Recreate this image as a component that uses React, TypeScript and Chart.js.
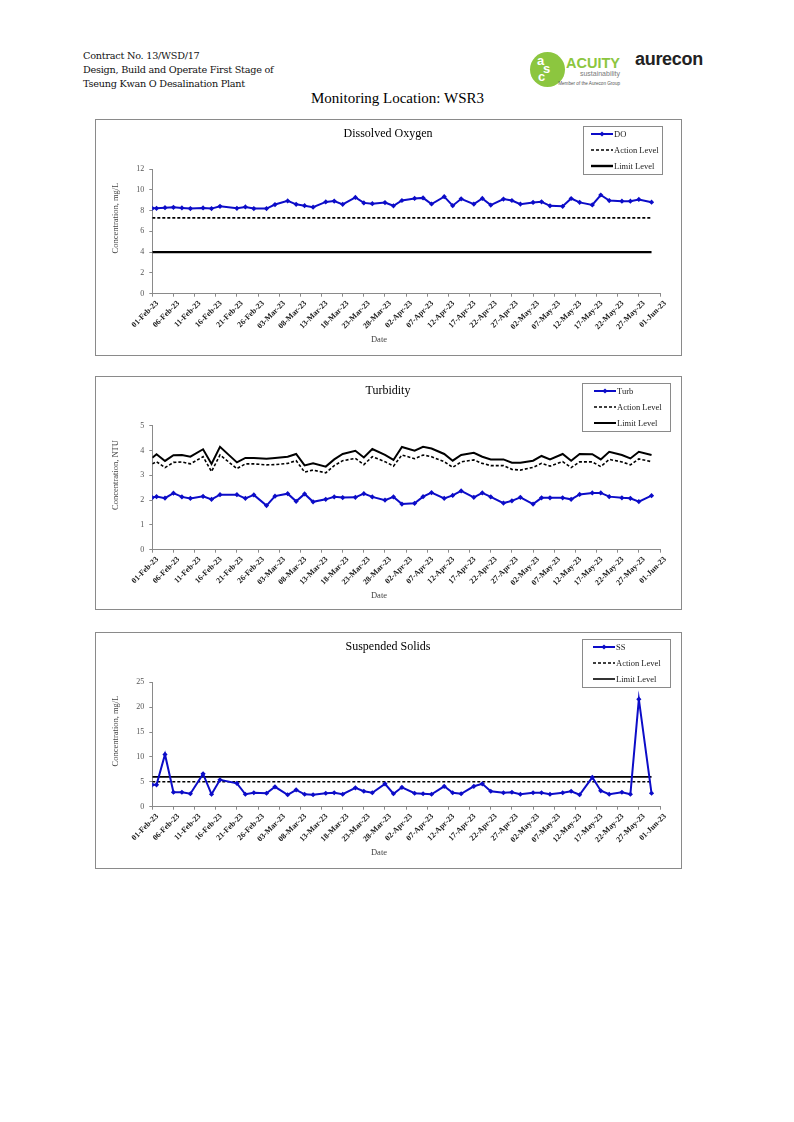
import React, { useEffect, useRef } from 'react';
import { Chart, registerables } from 'chart.js';

Chart.register(...registerables);

// ---------- DATA ----------
const tickLabels = [
  '01-Feb-23', '06-Feb-23', '11-Feb-23', '16-Feb-23', '21-Feb-23', '26-Feb-23',
  '03-Mar-23', '08-Mar-23', '13-Mar-23', '18-Mar-23', '23-Mar-23', '28-Mar-23',
  '02-Apr-23', '07-Apr-23', '12-Apr-23', '17-Apr-23', '22-Apr-23', '27-Apr-23',
  '02-May-23', '07-May-23', '12-May-23', '17-May-23', '22-May-23', '27-May-23',
  '01-Jun-23',
];

const sampleDates = [
  '01-Feb', '02-Feb', '04-Feb', '06-Feb', '08-Feb', '10-Feb', '13-Feb', '15-Feb', '17-Feb', '21-Feb', '23-Feb', '25-Feb', '28-Feb',
  '02-Mar', '05-Mar', '07-Mar', '09-Mar', '11-Mar', '14-Mar', '16-Mar', '18-Mar', '21-Mar', '23-Mar', '25-Mar', '28-Mar', '30-Mar',
  '01-Apr', '04-Apr', '06-Apr', '08-Apr', '11-Apr', '13-Apr', '15-Apr', '18-Apr', '20-Apr', '22-Apr', '25-Apr', '27-Apr', '29-Apr',
  '02-May', '04-May', '06-May', '09-May', '11-May', '13-May', '16-May', '18-May', '20-May', '23-May', '25-May', '27-May', '30-May',
];

const doValues = [
  8.22, 8.22, 8.28, 8.31, 8.25, 8.19, 8.25, 8.19, 8.41, 8.22, 8.35, 8.19, 8.19,
  8.58, 8.93, 8.6, 8.47, 8.33, 8.83, 8.91, 8.6, 9.26, 8.74, 8.66, 8.77, 8.46,
  8.97, 9.17, 9.22, 8.63, 9.34, 8.47, 9.13, 8.62, 9.17, 8.53, 9.11, 8.97, 8.62,
  8.78, 8.84, 8.46, 8.41, 9.16, 8.79, 8.54, 9.5, 8.96, 8.9, 8.9, 9.07, 8.81,
];
const doAction = 7.3;
const doLimit = 4.0;

const turbValues = [
  2.1, 2.14, 2.08, 2.28, 2.13, 2.07, 2.15, 2.03, 2.22, 2.22, 2.07, 2.21, 1.78,
  2.16, 2.26, 1.95, 2.25, 1.93, 2.03, 2.13, 2.1, 2.11, 2.26, 2.13, 2.0, 2.13,
  1.84, 1.87, 2.14, 2.3, 2.07, 2.19, 2.37, 2.11, 2.29, 2.13, 1.88, 1.97, 2.11,
  1.84, 2.09, 2.09, 2.09, 2.03, 2.23, 2.29, 2.29, 2.14, 2.09, 2.07, 1.94, 2.18,
];
const turbAction = [
  3.46, 3.55, 3.31, 3.52, 3.54, 3.46, 3.75, 3.15, 3.82, 3.27, 3.46, 3.46, 3.42,
  3.43, 3.48, 3.59, 3.13, 3.21, 3.1, 3.39, 3.59, 3.68, 3.43, 3.75, 3.55, 3.37,
  3.82, 3.67, 3.82, 3.75, 3.55, 3.32, 3.54, 3.62, 3.48, 3.39, 3.39, 3.24, 3.21,
  3.32, 3.48, 3.37, 3.55, 3.31, 3.54, 3.54, 3.35, 3.64, 3.54, 3.42, 3.66, 3.55,
];
const turbLimit = [
  3.71, 3.85, 3.58, 3.81, 3.82, 3.75, 4.05, 3.46, 4.15, 3.52, 3.7, 3.7, 3.67,
  3.7, 3.75, 3.86, 3.4, 3.48, 3.35, 3.64, 3.86, 3.99, 3.72, 4.06, 3.82, 3.62,
  4.14, 3.99, 4.15, 4.08, 3.86, 3.59, 3.82, 3.91, 3.75, 3.64, 3.64, 3.51, 3.51,
  3.59, 3.78, 3.64, 3.86, 3.59, 3.86, 3.85, 3.64, 3.95, 3.82, 3.68, 3.95, 3.82,
];

const ssValues = [
  4.4, 4.4, 10.5, 2.9, 2.9, 2.6, 6.6, 2.5, 5.4, 4.7, 2.5, 2.8, 2.7,
  4.0, 2.4, 3.4, 2.5, 2.4, 2.7, 2.8, 2.5, 3.8, 3.1, 2.8, 4.6, 2.6,
  3.9, 2.7, 2.6, 2.5, 4.1, 2.8, 2.6, 4.1, 4.6, 3.1, 2.8, 2.9, 2.5,
  2.8, 2.8, 2.5, 2.8, 3.1, 2.4, 5.9, 3.2, 2.5, 2.9, 2.5, 21.6, 2.7,
];
const ssAction = 5.0;
const ssLimit = 6.0;

// ---------- HELPERS ----------
const MONTHS: Record<string, number> = { Jan: 0, Feb: 1, Mar: 2, Apr: 3, May: 4, Jun: 5 };
const toDay = (s: string) => {
  const [d, m] = s.split('-');
  return (Date.UTC(2023, MONTHS[m], parseInt(d, 10)) - Date.UTC(2023, 1, 1)) / 86400000;
};
const days = sampleDates.map(toDay);
const pts = (vals: number[]) => vals.map((v, i) => ({ x: days[i], y: v }));
const levelPts = (v: number) => [{ x: days[0], y: v }, { x: days[days.length - 1], y: v }];

const BLUE = '#0c0cc8';
const AXIS = '#8a8a8a';
const SERIF = '"Liberation Serif", "Times New Roman", serif';
const CANVAS_W = 585;
const AREA_LEFT = 56.3;
const AREA_RIGHT = 564;

const decorPlugin = {
  id: 'decor',
  afterDraw(chart: any, _args: any, o: any) {
    const ctx = chart.ctx as CanvasRenderingContext2D;
    ctx.save();
    ctx.textAlign = 'center';
    ctx.textBaseline = 'middle';
    ctx.fillStyle = '#000';
    ctx.font = `12px ${SERIF}`;
    ctx.fillText(o.title, 292, 14);
    ctx.fillStyle = '#444';
    ctx.font = `8.5px ${SERIF}`;
    ctx.fillText('Date', 283, o.dateY);
    ctx.translate(19.7, 98);
    ctx.rotate(-Math.PI / 2);
    ctx.fillText(o.yTitle, 0, 0);
    ctx.restore();

    // legend box
    const L = o.legLeft, T = 5.5, W = o.legW, H = 47.5;
    ctx.save();
    ctx.fillStyle = '#fff';
    ctx.fillRect(L, T, W, H);
    ctx.strokeStyle = '#8a8a8a';
    ctx.lineWidth = 1;
    ctx.strokeRect(Math.round(L) + 0.5, Math.round(T) + 0.5, Math.round(W), Math.round(H));
    const rows = [T + 8.5, T + 24.5, T + 40.5];
    const x0 = L + o.lineOff, x1 = x0 + 22;
    chart.data.datasets.forEach((ds: any, i: number) => {
      const y = rows[i];
      ctx.save();
      ctx.strokeStyle = ds.borderColor;
      ctx.lineWidth = ds.borderWidth;
      ctx.setLineDash(ds.borderDash || []);
      ctx.beginPath();
      ctx.moveTo(x0, y);
      ctx.lineTo(x1, y);
      ctx.stroke();
      ctx.setLineDash([]);
      if (ds.pointRadius > 0) {
        const r = 2.6;
        const cx = (x0 + x1) / 2;
        ctx.fillStyle = ds.borderColor;
        ctx.beginPath();
        ctx.moveTo(cx, y - r);
        ctx.lineTo(cx + r, y);
        ctx.lineTo(cx, y + r);
        ctx.lineTo(cx - r, y);
        ctx.closePath();
        ctx.fill();
      }
      ctx.fillStyle = '#222';
      ctx.font = `8.5px ${SERIF}`;
      ctx.textAlign = 'left';
      ctx.textBaseline = 'middle';
      ctx.fillText(ds.label, x1 + 1, y + 0.5);
      ctx.restore();
    });
    ctx.restore();
  },
};

type Cfg = {
  canvasH: number;
  areaTop: number;
  areaBottom: number;
  yMax: number;
  yStep: number;
  title: string;
  yTitle: string;
  seriesLabel: string;
  series: { x: number; y: number }[];
  action: { x: number; y: number }[];
  limit: { x: number; y: number }[];
  legLeft: number;
  legW: number;
  lineOff: number;
  limitWidth: number;
};

function LineChart({ cfg }: { cfg: Cfg }) {
  const ref = useRef<HTMLCanvasElement>(null);
  useEffect(() => {
    const chart = new Chart(ref.current as HTMLCanvasElement, {
      type: 'line',
      data: {
        datasets: [
          {
            label: cfg.seriesLabel,
            data: cfg.series,
            borderColor: BLUE,
            backgroundColor: BLUE,
            borderWidth: 2,
            pointStyle: 'rectRot',
            pointRadius: 2.6,
            pointBorderWidth: 0,
            pointBackgroundColor: BLUE,
            tension: 0,
          },
          {
            label: 'Action Level',
            data: cfg.action,
            borderColor: '#000',
            borderWidth: 1.6,
            borderDash: [3, 2],
            pointRadius: 0,
          },
          {
            label: 'Limit Level',
            data: cfg.limit,
            borderColor: '#000',
            borderWidth: cfg.limitWidth,
            pointRadius: 0,
          },
        ],
      } as any,
      options: {
        animation: false,
        responsive: false,
        maintainAspectRatio: false,
        events: [],
        layout: { padding: { left: 0, top: cfg.areaTop, right: CANVAS_W - AREA_RIGHT, bottom: 0 } },
        plugins: {
          legend: { display: false },
          title: { display: false },
          tooltip: { enabled: false },
          decor: {
            title: cfg.title,
            yTitle: cfg.yTitle,
            dateY: cfg.areaBottom + 46,
            legLeft: cfg.legLeft,
            legW: cfg.legW,
            lineOff: cfg.lineOff,
          },
        } as any,
        scales: {
          x: {
            type: 'linear',
            min: 0,
            max: 120,
            afterFit: (s: any) => {
              s.height = cfg.canvasH - cfg.areaBottom;
            },
            ticks: {
              stepSize: 5,
              autoSkip: false,
              maxRotation: 45,
              minRotation: 45,
              padding: 2,
              labelOffset: 5,
              color: '#1a1a1a',
              font: { family: SERIF, size: 8, weight: 'bold' },
              callback: (v: any) => tickLabels[Math.round(Number(v) / 5)] ?? '',
            },
            grid: { drawOnChartArea: false, drawTicks: true, tickLength: 3, color: AXIS },
            border: { color: AXIS, width: 1 },
          },
          y: {
            min: 0,
            max: cfg.yMax,
            afterFit: (s: any) => {
              s.width = AREA_LEFT;
            },
            ticks: {
              stepSize: cfg.yStep,
              padding: 5,
              color: '#555',
              font: { family: SERIF, size: 8 },
            },
            grid: { drawOnChartArea: false, drawTicks: true, tickLength: 3, color: AXIS },
            border: { color: AXIS, width: 1 },
          },
        },
      } as any,
      plugins: [decorPlugin as any],
    });
    return () => chart.destroy();
  }, []);
  return <canvas ref={ref} width={CANVAS_W} height={cfg.canvasH} style={{ display: 'block', width: CANVAS_W, height: cfg.canvasH }} />;
}

const charts: { top: number; cfg: Cfg }[] = [
  {
    top: 119,
    cfg: {
      canvasH: 235, areaTop: 49, areaBottom: 173.7, yMax: 12, yStep: 2,
      title: 'Dissolved Oxygen', yTitle: 'Concentration, mg/L', seriesLabel: 'DO',
      series: pts(doValues), action: levelPts(doAction), limit: levelPts(doLimit),
      legLeft: 487, legW: 79, lineOff: 8, limitWidth: 2.4,
    },
  },
  {
    top: 376,
    cfg: {
      canvasH: 232, areaTop: 48.7, areaBottom: 172.7, yMax: 5, yStep: 1,
      title: 'Turbidity', yTitle: 'Concentration, NTU', seriesLabel: 'Turb',
      series: pts(turbValues), action: pts(turbAction), limit: pts(turbLimit),
      legLeft: 486, legW: 88, lineOff: 12, limitWidth: 2,
    },
  },
  {
    top: 632,
    cfg: {
      canvasH: 235, areaTop: 49.3, areaBottom: 173.7, yMax: 25, yStep: 5,
      title: 'Suspended Solids', yTitle: 'Concentration, mg/L', seriesLabel: 'SS',
      series: pts(ssValues), action: levelPts(ssAction), limit: levelPts(ssLimit),
      legLeft: 486, legW: 88, lineOff: 11, limitWidth: 1.6,
    },
  },
];

const SANS = '"Liberation Sans", Arial, sans-serif';

export default function App() {
  return (
    <div style={{ position: 'absolute', left: 0, top: 0, width: 794, height: 1122, background: '#fff', overflow: 'hidden' }}>
      <div style={{ position: 'absolute', left: 83, top: 49, font: '9.7px "DejaVu Serif"', lineHeight: '14px', letterSpacing: '-0.25px', color: '#111', whiteSpace: 'nowrap' }}>
        <div>Contract No. 13/WSD/17</div>
        <div>Design, Build and Operate First Stage of</div>
        <div>Tseung Kwan O Desalination Plant</div>
      </div>

      {/* logos */}
      <div style={{ position: 'absolute', left: 530, top: 51.5, width: 35, height: 35, borderRadius: '50%', background: '#8cc63f' }}>
        <span style={{ position: 'absolute', left: 7, top: 1, font: `bold 13px ${SANS}`, color: '#fff' }}>a</span>
        <span style={{ position: 'absolute', left: 13, top: 9, font: `bold 13px ${SANS}`, color: '#fff' }}>s</span>
        <span style={{ position: 'absolute', left: 8, top: 17, font: `bold 13px ${SANS}`, color: '#fff' }}>c</span>
      </div>
      <div style={{ position: 'absolute', left: 566, top: 55, font: `bold 14.5px ${SANS}`, color: '#8cc63f', lineHeight: '16px' }}>ACUITY</div>
      <div style={{ position: 'absolute', left: 560, width: 60, top: 70, font: `7px ${SANS}`, color: '#7a7a7a', textAlign: 'right', lineHeight: '8px' }}>sustainability</div>
      <div style={{ position: 'absolute', left: 540, width: 80, top: 81, font: `4.6px ${SANS}`, color: '#555', textAlign: 'right', lineHeight: '6px' }}>Member of the Aurecon Group</div>
      <div style={{ position: 'absolute', left: 635, top: 49, font: `bold 18px ${SANS}`, color: '#222', lineHeight: '20px', letterSpacing: '-0.3px' }}>aurecon</div>

      <div style={{ position: 'absolute', left: 0, width: 795, top: 90, textAlign: 'center', font: `15px ${SERIF}`, lineHeight: '17px', color: '#000' }}>
        Monitoring Location: WSR3
      </div>

      {charts.map((c, i) => (
        <div key={i} style={{ position: 'absolute', left: 95, top: c.top, width: 587, height: c.cfg.canvasH + 2, border: '1px solid #8a8a8a', boxSizing: 'border-box', background: '#fff' }}>
          <LineChart cfg={c.cfg} />
        </div>
      ))}
    </div>
  );
}
